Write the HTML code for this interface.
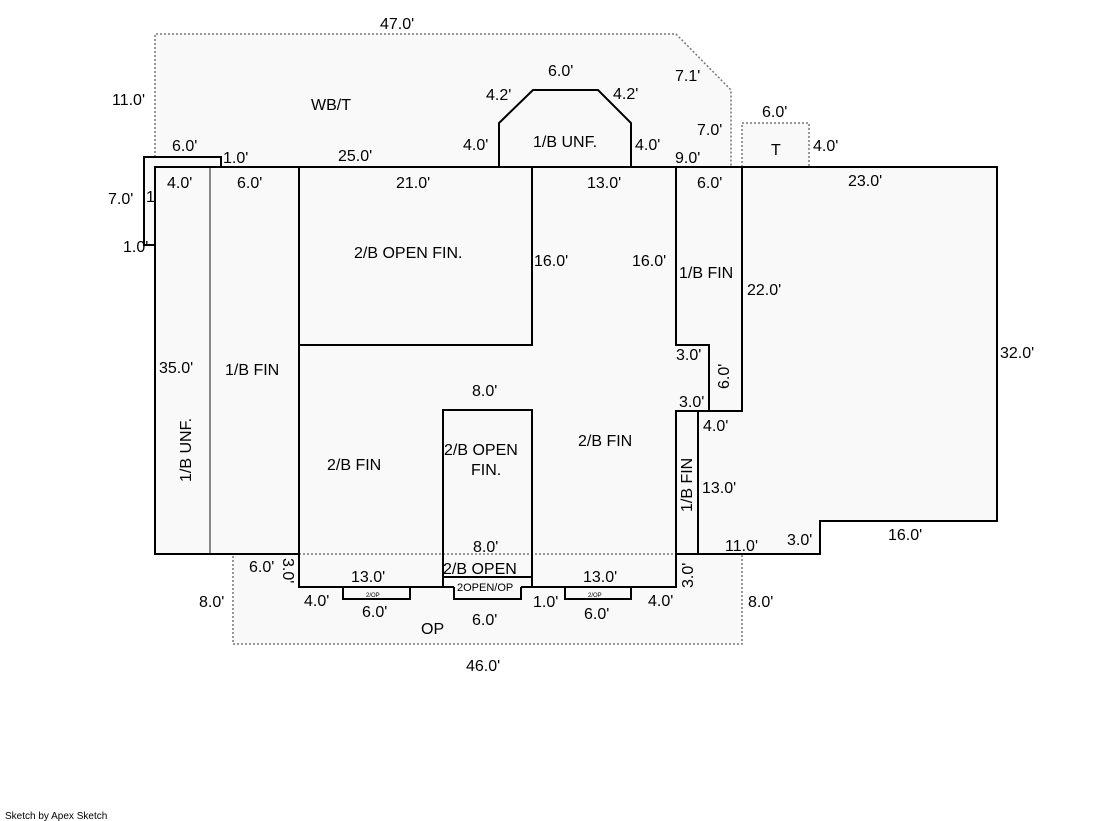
<!DOCTYPE html>
<html><head><style>
html,body{margin:0;padding:0;background:#fff;}
svg{display:block;}
text{font-family:"Liberation Sans",sans-serif;font-size:16px;fill:#000;}
</style></head><body>
<svg width="1119" height="821" viewBox="0 0 1119 821" xmlns="http://www.w3.org/2000/svg">
<g fill="#f9f9f9" stroke="none">
<polygon points="155,34 676,34 731,90 731,167 155,167"/>
<rect x="742" y="123" width="67" height="44"/>
<rect x="233" y="554" width="509" height="90"/>
<polygon points="499,167 499,123 533,90 598,90 631,123 631,167"/>
<rect x="144" y="157" width="77" height="88"/>
<polygon points="155,167 997,167 997,521 820,521 820,554 698,554 676,554 676,587 299,587 299,554 155,554"/>
</g>
<g fill="none" stroke="#777" stroke-width="1.5" stroke-dasharray="2,2">
<polyline points="155,157 155,34 676,34 731,90 731,167"/>
<polyline points="742,167 742,123 809,123 809,167"/>
<polyline points="299,554 233,554 233,644 742,644 742,554 676,554"/>
<line x1="299" y1="554" x2="676" y2="554"/>
</g>
<line x1="210" y1="167" x2="210" y2="554" stroke="#888" stroke-width="2"/>
<g fill="none" stroke="#000" stroke-width="2">
<polyline points="155,245 144,245 144,157 221,157 221,167"/>
<polyline points="155,167 997,167 997,521 820,521 820,554 698,554 698,411"/>
<rect x="155" y="167" width="144" height="387"/>
<polyline points="299,167 299,587 454,587"/>
<polyline points="521,587 676,587 676,411 742,411 742,167"/>
<polyline points="299,345 532,345 532,167"/>
<polyline points="499,167 499,123 533,90 598,90 631,123 631,167"/>
<polyline points="676,167 676,345 709,345 709,411"/>
<line x1="676" y1="554" x2="698" y2="554"/>
<polyline points="443,587 443,410 532,410 532,587"/>
<line x1="443" y1="577" x2="532" y2="577"/>
<polyline points="454,587 454,599 521,599 521,587"/>
<polyline points="343,587 343,599 410,599 410,587"/>
<polyline points="565,587 565,599 631,599 631,587"/>
</g>
<text x="380" y="29">47.0'</text>
<text x="112" y="105">11.0'</text>
<text x="311" y="110">WB/T</text>
<text x="172" y="151">6.0'</text>
<text x="223" y="163">1.0'</text>
<text x="338" y="161">25.0'</text>
<text x="167" y="188">4.0'</text>
<text x="237" y="188">6.0'</text>
<text x="396" y="188">21.0'</text>
<text x="108" y="204">7.0'</text>
<text x="146" y="202">1</text>
<text x="123" y="252">1.0'</text>
<text x="548" y="76">6.0'</text>
<text x="486" y="100">4.2'</text>
<text x="613" y="99">4.2'</text>
<text x="675" y="81">7.1'</text>
<text x="697" y="135">7.0'</text>
<text x="762" y="117">6.0'</text>
<text x="771" y="155">T</text>
<text x="813" y="151">4.0'</text>
<text x="463" y="150">4.0'</text>
<text x="533" y="147">1/B UNF.</text>
<text x="635" y="150">4.0'</text>
<text x="675" y="163">9.0'</text>
<text x="587" y="188">13.0'</text>
<text x="697" y="188">6.0'</text>
<text x="848" y="186">23.0'</text>
<text x="354" y="258">2/B OPEN FIN.</text>
<text x="534" y="266">16.0'</text>
<text x="632" y="266">16.0'</text>
<text x="679" y="278">1/B FIN</text>
<text x="747" y="295">22.0'</text>
<text x="1000" y="358">32.0'</text>
<text x="159" y="373">35.0'</text>
<text x="225" y="375">1/B FIN</text>
<text x="676" y="360">3.0'</text>
<text x="679" y="407">3.0'</text>
<text transform="translate(729,389) rotate(-90)">6.0'</text>
<text x="703" y="431">4.0'</text>
<text x="472" y="396">8.0'</text>
<text x="444" y="455">2/B OPEN</text>
<text x="471" y="475">FIN.</text>
<text x="578" y="446">2/B FIN</text>
<text x="327" y="470">2/B FIN</text>
<text transform="translate(191,482) rotate(-90)">1/B UNF.</text>
<text transform="translate(692,512) rotate(-90)">1/B FIN</text>
<text x="702" y="493">13.0'</text>
<text x="725" y="551">11.0'</text>
<text x="787" y="545">3.0'</text>
<text x="888" y="540">16.0'</text>
<text x="473" y="552">8.0'</text>
<text x="443" y="574">2/B OPEN</text>
<text x="457" y="591" style="font-size:11px">2OPEN/OP</text>
<text x="249" y="572">6.0'</text>
<text transform="translate(283,558) rotate(90)">3.0'</text>
<text transform="translate(693,588) rotate(-90)">3.0'</text>
<text x="351" y="582">13.0'</text>
<text x="583" y="582">13.0'</text>
<text x="366" y="597" style="font-size:6px">2/OP</text>
<text x="588" y="597" style="font-size:6px">2/OP</text>
<text x="304" y="606">4.0'</text>
<text x="533" y="607">1.0'</text>
<text x="648" y="606">4.0'</text>
<text x="199" y="607">8.0'</text>
<text x="748" y="607">8.0'</text>
<text x="362" y="617">6.0'</text>
<text x="472" y="625">6.0'</text>
<text x="584" y="619">6.0'</text>
<text x="421" y="634">OP</text>
<text x="466" y="671">46.0'</text>
<text x="5" y="819" style="font-size:10px">Sketch by Apex Sketch</text>
</svg>
</body></html>
